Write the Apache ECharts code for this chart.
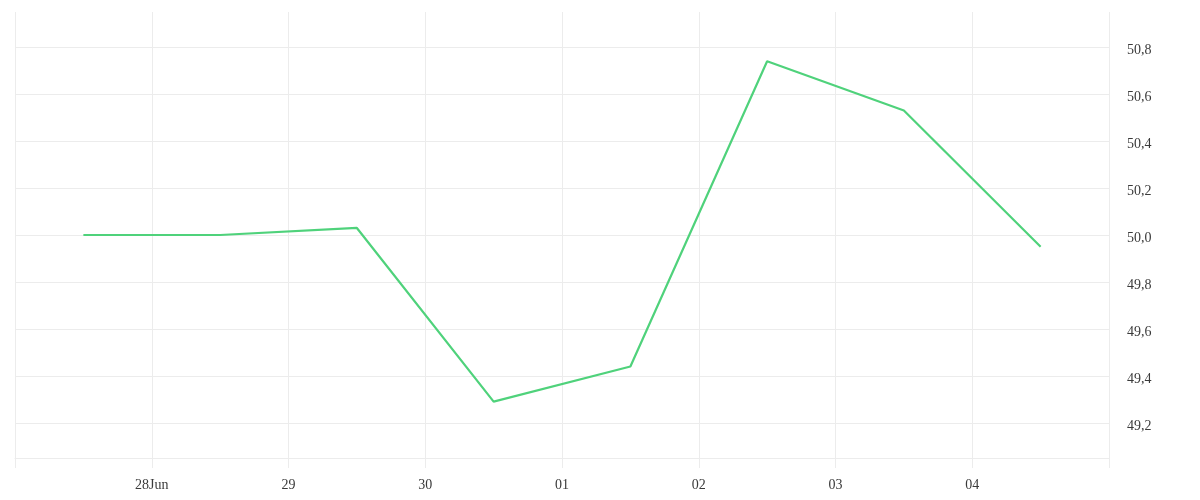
<!DOCTYPE html>
<html>
<head>
<meta charset="utf-8">
<script src="https://cdn.jsdelivr.net/npm/echarts@6/dist/echarts.min.js"></script>
<style>html,body{margin:0;padding:0;background:#fff}#c{width:1200px;height:500px}</style>
</head>
<body>
<div id="c"></div>
<script>
const dates = ['2023-06-27','2023-06-28','2023-06-29','2023-06-30','2023-07-01','2023-07-02','2023-07-03','2023-07-04'];
const values = [50.0, 50.0, 50.03, 49.29, 49.44, 50.74, 50.53, 49.95];
const tickDates = ['2023-06-28','2023-06-29','2023-06-30','2023-07-01','2023-07-02','2023-07-03','2023-07-04'];
const tickLabels = ['28Jun','29','30','01','02','03','04'];
const xMinDate = '2023-06-27T00:00:00';
const xMaxDate = '2023-07-05T00:00:00';
const yMin = 49.05, yMax = 50.95;

const DAY = 86400000;
const ts = s => new Date(s + (s.length === 10 ? 'T00:00:00' : '')).getTime();
const labelMap = {};
tickDates.forEach((d, i) => { labelMap[ts(d)] = tickLabels[i]; });
const seriesData = dates.map((d, i) => [ts(d) + DAY / 2, values[i]]);

const chart = echarts.init(document.getElementById('c'));
chart.setOption({
  animation: false,
  grid: { left: 15, right: 91, top: 12, bottom: 42 },
  xAxis: {
    type: 'time',
    min: ts(xMinDate), max: ts(xMaxDate),
    minInterval: DAY, maxInterval: DAY, splitNumber: 8,
    axisLine: { show: true, lineStyle: { color: '#ececec', width: 1 } },
    axisTick: { show: true, length: 10, lineStyle: { color: '#ececec' } },
    splitLine: { show: true, lineStyle: { color: '#ececec', width: 1 } },
    axisLabel: {
      margin: 20, color: '#3a3a3a', fontFamily: 'Liberation Serif', fontSize: 14,
      showMinLabel: false, showMaxLabel: false,
      formatter: v => labelMap[v] || ''
    }
  },
  yAxis: {
    type: 'value', position: 'right',
    min: yMin, max: yMax, splitNumber: 9, scale: true,
    axisLine: { show: false }, axisTick: { show: false },
    splitLine: { show: true, showMaxLine: false, lineStyle: { color: '#ececec', width: 1 } },
    axisLabel: {
      margin: 18, color: '#3a3a3a', fontFamily: 'Liberation Serif', fontSize: 14,
      showMinLabel: false, showMaxLabel: false,
      formatter: v => '{t|' + v.toFixed(1).replace('.', ',') + '}',
      rich: { t: { padding: [7, 0, 0, 0], color: '#3a3a3a', fontFamily: 'Liberation Serif', fontSize: 14 } }
    }
  },
  series: [{
    type: 'line', data: seriesData, showSymbol: false, symbol: 'none',
    lineStyle: { color: '#4fd27b', width: 2.2 }
  }]
});
</script>
</body>
</html>
